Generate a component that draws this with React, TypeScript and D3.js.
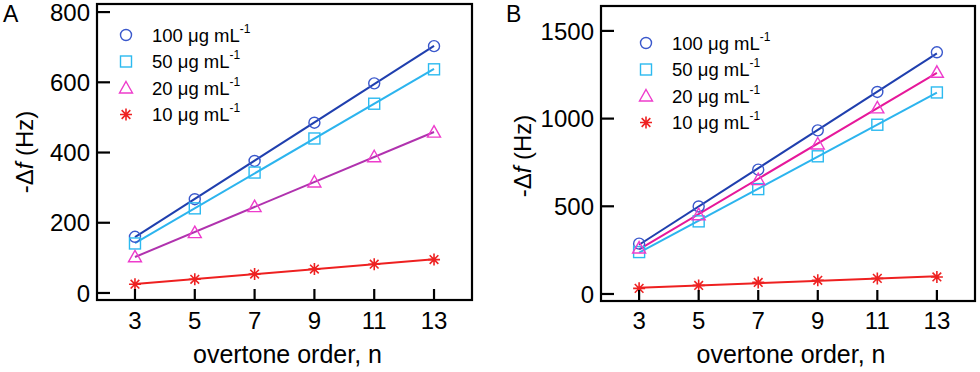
import React from 'react';
import { scaleLinear, line as d3line, mean } from 'd3';

const overtones = [3, 5, 7, 9, 11, 13];

// panel A
const a100 = [160, 267, 376, 485, 597, 703];
const a50 = [141, 241, 343, 440, 539, 637];
const a20 = [103, 172, 246, 316, 388, 458];
const a10 = [25, 39, 54, 68, 82, 95];
const aTicks = [0, 200, 400, 600, 800];

// panel B
const b100 = [287, 499, 709, 933, 1152, 1378];
const b50 = [239, 414, 598, 785, 965, 1149];
const b20 = [262, 452, 652, 855, 1061, 1264];
const b10 = [32, 49, 66, 78, 89, 97];
const bTicks = [0, 500, 1000, 1500];

const concentrations = ['100', '50', '20', '10'];
const FONT = '"Liberation Sans", Arial, Helvetica, sans-serif';

type Series = { values: number[]; marker: string; markColor: string; lineColor: string };

// least squares line through the points
const fit = (xs: number[], ys: number[]) => {
    const mx = mean(xs) as number;
    const my = mean(ys) as number;
    let num = 0;
    let den = 0;
    xs.forEach((x, i) => {
        num += (x - mx) * (ys[i] - my);
        den += (x - mx) * (x - mx);
    });
    const k = num / den;
    return (x: number) => my + k * (x - mx);
};

const Marker = ({ kind, x, y, color }: { kind: string; x: number; y: number; color: string }) => {
    const sw = 1.4;
    if (kind === 'circle') {
        return <circle cx={x} cy={y} r={5.5} fill="none" stroke={color} strokeWidth={sw} />;
    }
    if (kind === 'square') {
        return <rect x={x - 5.5} y={y - 5.5} width={11} height={11} fill="none" stroke={color} strokeWidth={sw} />;
    }
    if (kind === 'triangle') {
        return (
            <path d={`M${x},${y - 6.5}L${x + 6.5},${y + 5}L${x - 6.5},${y + 5}Z`} fill="none" stroke={color} strokeWidth={sw} />
        );
    }
    const r = 6;
    const d = r * 0.72;
    return (
        <path
            d={`M${x - r},${y}L${x + r},${y}M${x},${y - r}L${x},${y + r}M${x - d},${y - d}L${x + d},${y + d}M${x - d},${y + d}L${x + d},${y - d}`}
            stroke={color}
            strokeWidth={1.6}
        />
    );
};

type PanelProps = {
    letter: string;
    letterX: number;
    left: number;
    right: number;
    top: number;
    bottom: number;
    xDomain: [number, number];
    yDomain: [number, number];
    yTicks: number[];
    series: Series[];
    legendX: number;
    legendY: number;
    ylabelX: number;
    ylabelY: number;
};

const Panel = (p: PanelProps) => {
    const x = scaleLinear().domain(p.xDomain).range([p.left, p.right]);
    const y = scaleLinear().domain(p.yDomain).range([p.bottom, p.top]);

    return (
        <g fontFamily={FONT}>
            <text x={p.letterX} y={22} fontSize={23}>
                {p.letter}
            </text>
            {p.series.map((s, i) => {
                const f = fit(overtones, s.values);
                const ln = d3line<number>()
                    .x((d) => x(d))
                    .y((d) => y(f(d)));
                return (
                    <path key={'l' + i} d={ln([overtones[0], overtones[overtones.length - 1]]) || ''} stroke={s.lineColor} strokeWidth={2} fill="none" />
                );
            })}
            {p.series.map((s, i) => (
                <g key={'m' + i}>
                    {s.values.map((v, j) => (
                        <Marker key={j} kind={s.marker} x={x(overtones[j])} y={y(v)} color={s.markColor} />
                    ))}
                </g>
            ))}
            <rect x={p.left} y={p.top} width={p.right - p.left} height={p.bottom - p.top} fill="none" stroke="#000" strokeWidth={2.2} />
            {p.yTicks.map((t) => (
                <g key={'y' + t}>
                    <line x1={p.left} x2={p.left + 13} y1={y(t)} y2={y(t)} stroke="#000" strokeWidth={2.2} />
                    <text x={p.left - 7} y={y(t)} dy="0.36em" textAnchor="end" fontSize={24}>
                        {t}
                    </text>
                </g>
            ))}
            {overtones.map((t) => (
                <g key={'x' + t}>
                    <line x1={x(t)} x2={x(t)} y1={p.bottom} y2={p.bottom - 11} stroke="#000" strokeWidth={2.2} />
                    <text x={x(t)} y={329} textAnchor="middle" fontSize={24}>
                        {t}
                    </text>
                </g>
            ))}
            <text x={(p.left + p.right) / 2 + 3} y={363} textAnchor="middle" fontSize={25}>
                overtone order, n
            </text>
            <text transform={`translate(${p.ylabelX},${p.ylabelY}) rotate(-90)`} textAnchor="middle" fontSize={24}>
                -Δ<tspan fontStyle="italic">f</tspan> (Hz)
            </text>
            {p.series.map((s, i) => (
                <g key={'g' + i} transform={`translate(0,${p.legendY + i * 26.5})`}>
                    <Marker kind={s.marker} x={p.legendX} y={0} color={s.markColor} />
                    <text x={p.legendX + 26} y={0} dy="0.36em" fontSize={18.5}>
                        {concentrations[i]} μg mL
                        <tspan fontSize={12} dy="-0.75em">
                            -1
                        </tspan>
                    </text>
                </g>
            ))}
        </g>
    );
};

const App = () => {
    const seriesA: Series[] = [
        { values: a100, marker: 'circle', markColor: '#3a58cc', lineColor: '#1f3fae' },
        { values: a50, marker: 'square', markColor: '#2cbaf0', lineColor: '#2cb4ee' },
        { values: a20, marker: 'triangle', markColor: '#ee3ccc', lineColor: '#b032ae' },
        { values: a10, marker: 'star', markColor: '#ee2222', lineColor: '#ee2020' },
    ];
    const seriesB: Series[] = [
        { values: b100, marker: 'circle', markColor: '#3a58cc', lineColor: '#1f3fae' },
        { values: b50, marker: 'square', markColor: '#2cbaf0', lineColor: '#2cb4ee' },
        { values: b20, marker: 'triangle', markColor: '#ee3ccc', lineColor: '#e6189a' },
        { values: b10, marker: 'star', markColor: '#ee2222', lineColor: '#ee2020' },
    ];
    return (
        <svg width={980} height={372} style={{ position: 'absolute', left: 0, top: 0, background: '#fff' }}>
            <rect width={980} height={372} fill="#fff" />
            <Panel
                letter="A"
                letterX={3}
                left={97}
                right={472}
                top={4}
                bottom={300}
                xDomain={[1.73, 14.27]}
                yDomain={[-20, 823]}
                yTicks={aTicks}
                series={seriesA}
                legendX={126}
                legendY={35}
                ylabelX={33}
                ylabelY={152}
            />
            <Panel
                letter="B"
                letterX={506}
                left={601}
                right={975}
                top={6}
                bottom={301}
                xDomain={[1.72, 14.28]}
                yDomain={[-40, 1642]}
                yTicks={bTicks}
                series={seriesB}
                legendX={646}
                legendY={43}
                ylabelX={531}
                ylabelY={156}
            />
        </svg>
    );
};

export default App;
